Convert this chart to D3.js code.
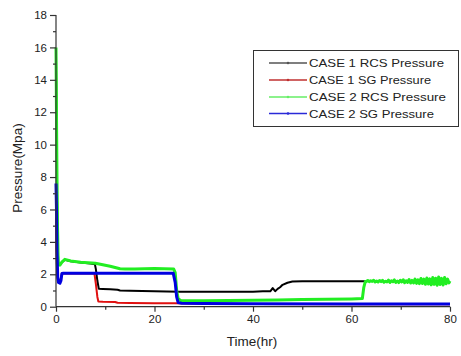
<!DOCTYPE html>
<html>
<head>
<meta charset="utf-8">
<script src="https://cdn.jsdelivr.net/npm/d3@7"></script>
<style>
  html, body { margin: 0; padding: 0; background: #fff; }
  svg { display: block; font-family: "Liberation Sans", Arial, sans-serif; }
</style>
</head>
<body>
<svg id="chart" width="461" height="356"></svg>
<script>
// ---------- data ----------
const seriesNames = ["CASE 1 RCS Pressure", "CASE 1 SG Pressure", "CASE 2 RCS Pressure", "CASE 2 SG Pressure"];

const case1RcsTime = [0, 0.1, 0.2, 0.35, 0.5, 0.8, 1.2, 1.8, 3, 5, 7, 7.9, 8.1, 8.4, 8.7, 9.5, 11, 12.5, 13, 15, 20, 25, 30, 35, 40, 42, 43.5, 44, 44.5, 45, 45.5, 46, 47, 48, 50, 55, 60, 62.8];
const case1RcsValue = [15.5, 12, 7, 3.5, 2.6, 2.57, 2.75, 2.9, 2.8, 2.73, 2.66, 2.62, 2.3, 1.6, 1.1, 1.09, 1.08, 1.05, 1.0, 0.98, 0.95, 0.93, 0.92, 0.92, 0.93, 0.95, 0.95, 1.15, 0.96, 1.1, 1.2, 1.35, 1.48, 1.55, 1.57, 1.57, 1.57, 1.57];

const case1SgTime = [0, 0.1, 0.25, 0.5, 0.8, 1.2, 3, 6, 7.8, 8.1, 8.4, 8.6, 9.5, 12, 12.5, 15, 20, 24, 30, 40, 60, 80];
const case1SgValue = [5.5, 3.5, 2.0, 1.5, 1.5, 2.05, 2.05, 2.05, 2.05, 1.4, 0.6, 0.32, 0.3, 0.29, 0.24, 0.23, 0.22, 0.22, 0.18, 0.16, 0.15, 0.15];

const case2RcsTime = [0, 0.05, 0.12, 0.2, 0.3, 0.45, 0.8, 1.2, 1.8, 3, 5, 8, 9, 11, 12, 13, 14, 16, 20, 23.9, 24.2, 24.5, 24.8, 25.3, 26, 30, 35, 40, 45, 50, 55, 60, 62.2, 62.5, 62.8,
  63, 63.3, 63.6, 63.9, 64.2, 64.5, 64.8, 65.1, 65.4, 65.7, 66, 66.3, 66.6, 66.9, 67.2, 67.5, 67.8, 68.1, 68.4, 68.7, 69, 69.3, 69.6, 69.9, 70.2, 70.5, 70.8, 71.1, 71.4, 71.7, 72, 72.3, 72.6, 72.9, 73.2, 73.5, 73.8, 74.1, 74.4, 74.7, 75, 75.3, 75.6, 75.9, 76.2, 76.5, 76.8, 77.1, 77.4, 77.7, 78, 78.3, 78.6, 78.9, 79.2, 79.5, 79.8, 80];
const case2RcsValue = [16, 14, 11, 8, 5, 2.7, 2.57, 2.75, 2.92, 2.82, 2.75, 2.68, 2.62, 2.5, 2.42, 2.34, 2.33, 2.33, 2.35, 2.33, 2.1, 1.0, 0.5, 0.38, 0.36, 0.37, 0.38, 0.4, 0.42, 0.44, 0.46, 0.48, 0.5, 1.2, 1.55,
  1.55, 1.62, 1.54, 1.6, 1.56, 1.63, 1.53, 1.58, 1.52, 1.62, 1.55, 1.63, 1.51, 1.57, 1.53, 1.64, 1.5, 1.6, 1.54, 1.65, 1.5, 1.58, 1.49, 1.63, 1.53, 1.66, 1.48, 1.6, 1.5, 1.68, 1.46, 1.62, 1.47, 1.7, 1.44, 1.66, 1.42, 1.74, 1.43, 1.7, 1.38, 1.77, 1.4, 1.72, 1.35, 1.8, 1.38, 1.76, 1.32, 1.83, 1.37, 1.75, 1.34, 1.8, 1.42, 1.7, 1.47, 1.58];

const case2SgTime = [0, 0.1, 0.2, 0.35, 0.5, 0.8, 1.0, 1.2, 1.5, 5, 10, 20, 23.8, 24.2, 24.5, 24.8, 25.5, 30, 40, 60, 80];
const case2SgValue = [7.6, 6, 3.5, 1.8, 1.5, 1.45, 1.6, 2.05, 2.07, 2.07, 2.07, 2.07, 2.07, 1.5, 0.6, 0.25, 0.21, 0.2, 0.18, 0.17, 0.17];

const xTicks = [0, 20, 40, 60, 80];
const yTicks = [0, 2, 4, 6, 8, 10, 12, 14, 16, 18];

// ---------- layout ----------
const svg = d3.select("#chart");
const plotLeft = 56, plotRight = 450, plotTop = 15, plotBottom = 306.7;
const x = d3.scaleLinear().domain([0, 80]).range([plotLeft, plotRight]);
const y = d3.scaleLinear().domain([0, 18]).range([plotBottom, plotTop]);

const colors = ["#000000", "#e01010", "#22ee22", "#0000e0"];
const widths = [2, 2, 3, 3];
const series = [
  [case1RcsTime, case1RcsValue],
  [case1SgTime, case1SgValue],
  [case2RcsTime, case2RcsValue],
  [case2SgTime, case2SgValue]
];

const line = d3.line().x(d => x(d[0])).y(d => y(d[1]));
series.forEach((s, i) => {
  const pts = s[0].map((t, k) => [t, s[1][k]]);
  svg.append("path").datum(pts)
    .attr("d", line)
    .attr("fill", "none")
    .attr("stroke", colors[i])
    .attr("stroke-width", widths[i])
    .attr("stroke-linejoin", "round");
});

// ---------- axes ----------
const axisColor = "#333";
const xAxis = d3.axisBottom(x).tickValues(xTicks).tickFormat(d3.format("d")).tickSize(5).tickPadding(3);
const gx = svg.append("g").attr("transform", `translate(0,${plotBottom})`).call(xAxis);
gx.select(".domain").attr("d", `M${plotLeft},0H${plotRight}`);
const gxMinor = svg.append("g").attr("transform", `translate(0,${plotBottom})`)
  .call(d3.axisBottom(x).tickValues([10, 30, 50, 70]).tickFormat("").tickSize(3));
gxMinor.select(".domain").remove();

const yAxis = d3.axisLeft(y).tickValues(yTicks).tickFormat(d3.format("d")).tickSize(6).tickPadding(3);
const gy = svg.append("g").attr("transform", `translate(${plotLeft},0)`).call(yAxis);
gy.select(".domain").attr("d", `M0,${plotBottom}V${plotTop}`);
const gyMinor = svg.append("g").attr("transform", `translate(${plotLeft},0)`)
  .call(d3.axisLeft(y).tickValues([1, 3, 5, 7, 9, 11, 13, 15, 17]).tickFormat("").tickSize(3));
gyMinor.select(".domain").remove();

[gx, gy, gxMinor, gyMinor].forEach(g => {
  g.selectAll("path, line").attr("stroke", axisColor).attr("stroke-width", 1.2);
  g.selectAll("text").attr("fill", "#222").attr("font-size", 11.5)
    .attr("font-family", "'Liberation Sans', Arial, sans-serif");
});

// axis titles
svg.append("text").attr("x", 252).attr("y", 346).attr("text-anchor", "middle")
  .attr("font-size", 13.5).attr("fill", "#222").text("Time(hr)");
svg.append("text").attr("transform", "translate(22,168) rotate(-90)").attr("text-anchor", "middle")
  .attr("font-size", 13.5).attr("fill", "#222").text("Pressure(Mpa)");

// ---------- legend ----------
const legendColors = ["#555555", "#c03030", "#66ee66", "#2a2ad8"];
const lg = svg.append("g");
lg.append("rect").attr("x", 253.5).attr("y", 50.5).attr("width", 205).attr("height", 76)
  .attr("fill", "#fff").attr("stroke", "#333").attr("stroke-width", 1);
const rowY = [63, 80, 97, 113.5];
seriesNames.forEach((name, i) => {
  lg.append("line").attr("x1", 269).attr("x2", 307).attr("y1", rowY[i]).attr("y2", rowY[i])
    .attr("stroke", legendColors[i]).attr("stroke-width", 1.5);
  lg.append("circle").attr("cx", 288).attr("cy", rowY[i]).attr("r", 1.3).attr("fill", legendColors[i]);
  const len = [135, 122, 137, 125][i];
  lg.append("text").attr("x", 309).attr("y", rowY[i] + 4).attr("font-size", 11)
    .attr("textLength", len).attr("lengthAdjust", "spacingAndGlyphs")
    .attr("fill", "#222").text(name);
});
</script>
</body>
</html>
